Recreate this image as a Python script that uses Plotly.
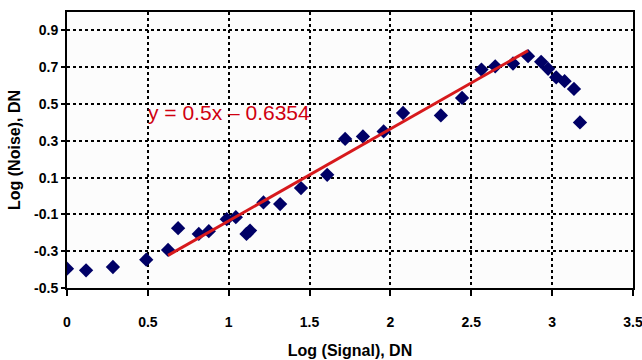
import plotly.graph_objects as go

log_signal = [0.0, 0.118, 0.284, 0.49, 0.625, 0.687, 0.815, 0.877, 0.988, 1.044,
              1.110, 1.132, 1.215, 1.318, 1.447, 1.609, 1.72, 1.83, 1.958, 2.078,
              2.312, 2.443, 2.563, 2.648, 2.758, 2.851, 2.932, 2.975, 3.025, 3.077,
              3.135, 3.172]
log_noise = [-0.395, -0.404, -0.386, -0.346, -0.293, -0.175, -0.206, -0.191, -0.126, -0.115,
             -0.206, -0.188, -0.035, -0.044, 0.043, 0.115, 0.31, 0.324, 0.351, 0.451,
             0.438, 0.533, 0.687, 0.705, 0.720, 0.760, 0.729, 0.691, 0.645, 0.624,
             0.582, 0.400]

fit_slope = 0.5
fit_intercept = -0.6354
fit_x = [0.625, 2.851]
fit_y = [fit_slope * x + fit_intercept for x in fit_x]

x_ticks = [0, 0.5, 1, 1.5, 2, 2.5, 3, 3.5]
y_ticks = [-0.5, -0.3, -0.1, 0.1, 0.3, 0.5, 0.7, 0.9]

fig = go.Figure()
fig.add_trace(go.Scatter(x=log_signal, y=log_noise, mode="markers",
                         marker=dict(symbol="diamond", size=11, color="#000066"),
                         showlegend=False))
fig.add_trace(go.Scatter(x=fit_x, y=fit_y, mode="lines",
                         line=dict(color="#d7191c", width=3), showlegend=False))

fig.add_annotation(x=0.49, y=0.453, xanchor="left", yanchor="middle",
                   text="y = 0.5x \u2013 0.6354", showarrow=False,
                   font=dict(family="Liberation Sans, Arial", size=21, color="#d00010"))

axis_font = dict(family="Liberation Sans, Arial", size=14, color="black", weight="bold")
title_font = dict(family="Liberation Sans, Arial", size=16, color="black", weight="bold")
fig.update_xaxes(range=[0, 3.5], tickvals=x_ticks, ticktext=[f"{v:g}" for v in x_ticks],
                 showgrid=True, gridcolor="black", griddash="dot", gridwidth=1.5,
                 showline=True, linecolor="black", linewidth=2, mirror=True,
                 ticks="outside", ticklen=6, tickcolor="black", tickwidth=1.5,
                 ticklabelstandoff=14, ticklabeloverflow="allow",
                 tickfont=axis_font, zeroline=False, automargin=False,
                 title=dict(text="Log (Signal), DN", font=title_font, standoff=16))
fig.update_yaxes(range=[-0.5, 1.0], tickvals=y_ticks, ticktext=[f"{v:g}" for v in y_ticks],
                 showgrid=True, gridcolor="black", griddash="dot", gridwidth=1.5,
                 showline=True, linecolor="black", linewidth=2, mirror=True,
                 ticks="outside", ticklen=4, tickcolor="black", tickwidth=1.5,
                 tickfont=axis_font, zeroline=False, automargin=False,
                 title=dict(text="Log (Noise), DN", font=title_font, standoff=9))

fig.update_layout(width=642, height=360, margin=dict(l=67, r=9, t=12, b=72),
                  paper_bgcolor="white", plot_bgcolor="#fcfcfc")
fig.write_html("out.html", config={"displayModeBar": False},
               post_script="document.body.style.margin='0';document.body.style.overflow='hidden';")
